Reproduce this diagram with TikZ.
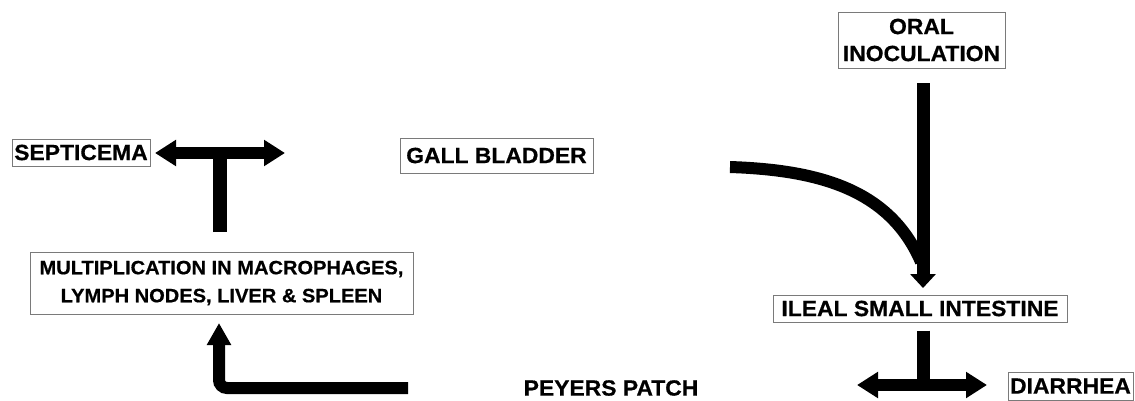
\documentclass[tikz,border=0pt]{standalone}
\usepackage{fontspec}
\setmainfont{Liberation Sans}[FakeStretch=1.04,FakeBold=0.6]
\usepackage{xcolor}
\usepackage{tikz}
\usetikzlibrary{arrows.meta}
\definecolor{frame}{HTML}{7A7A7A}

\begin{document}
\begin{tikzpicture}[x=1pt,y=-1pt,
    stage/.style={draw=frame,line width=1pt,inner sep=2pt,align=center,font=\bfseries\fontsize{22}{27}\selectfont},
    fat/.style={line width=13pt},
    tips/.style={{Triangle[width=25pt,length=21pt]}-{Triangle[width=25pt,length=21pt]}}]
  \useasboundingbox (0,0) rectangle (1135,400);

  % stages
  \node[stage,minimum width=138,minimum height=27] (sept) at (81,152.5) {SEPTICEMA};
  \node[stage,minimum width=193,minimum height=35] (gall) at (496.5,155.5) {GALL BLADDER};
  \node[stage,minimum width=167,minimum height=56] (oral) at (921.5,40) {ORAL\\INOCULATION};
  \node[stage,minimum width=383,minimum height=62,font=\bfseries\fontsize{19.3}{28}\selectfont] (mult) at (221.5,283) {MULTIPLICATION IN MACROPHAGES,\\LYMPH NODES, LIVER \& SPLEEN};
  \node[stage,minimum width=294,minimum height=27] (ileal) at (920,308.5) {ILEAL SMALL INTESTINE};
  \node[stage,draw=none] (peyers) at (611,388) {PEYERS PATCH};
  \node[stage,minimum width=125,minimum height=28] (diarr) at (1070.5,386) {DIARRHEA};

  % junctions and free ends
  \coordinate (septL) at (155,153);
  \coordinate (septR) at (285,153);
  \coordinate (septJ) at (220,153);
  \coordinate (septS) at (220,232);
  \coordinate (oralS) at (923,83);
  \coordinate (ilealT) at (923,288);
  \coordinate (gallS) at (730,167);
  \coordinate (diarJ) at (923,385);
  \coordinate (diarL) at (857,385);
  \coordinate (diarR) at (987,385);
  \coordinate (peyS) at (408,388);
  \coordinate (multT) at (219,323);

  % flows
  \draw[line width=12pt,tips] (septL) -- (septR);
  \draw[line width=14pt] (septS) -- (septJ);
  \draw[fat,-{Triangle[width=25pt,length=14pt]}] (oralS) -- (ilealT);
  \draw[line width=12pt] (gallS) .. controls (820,170) and (890,190) .. (921,262);
  \draw[fat] (ileal.south -| diarJ) ++(0,8) -- (diarJ);
  \draw[line width=12pt,tips] (diarL) -- (diarR);
  \draw[line width=12pt,rounded corners=8pt,-{Triangle[width=23pt,length=22pt]}] (peyS) -- (multT |- peyS) -- (multT);
\end{tikzpicture}
\end{document}
